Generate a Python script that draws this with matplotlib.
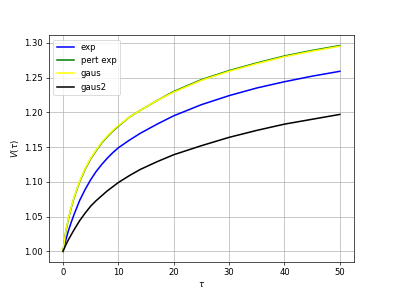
import matplotlib
matplotlib.use("Agg")
from matplotlib import pyplot as plt

tau = [0, 0.5, 1, 1.5, 2, 3, 4, 5, 6, 7, 8, 9, 10, 12, 14, 17, 20, 25, 30, 35, 40, 45, 50]

v_exp = [1.0, 1.016, 1.030, 1.042, 1.053, 1.073, 1.089, 1.103, 1.115, 1.125, 1.134, 1.142,
         1.149, 1.160, 1.170, 1.183, 1.195, 1.211, 1.224, 1.235, 1.244, 1.252, 1.259]
v_pert_exp = [1.0, 1.028, 1.047, 1.063, 1.077, 1.100, 1.118, 1.133, 1.145, 1.156, 1.165, 1.173,
              1.180, 1.193, 1.203, 1.217, 1.230, 1.247, 1.260, 1.271, 1.281, 1.289, 1.296]
v_gaus = [1.0, 1.029, 1.048, 1.064, 1.078, 1.101, 1.119, 1.134, 1.146, 1.157, 1.166, 1.174,
          1.181, 1.193, 1.203, 1.217, 1.229, 1.246, 1.259, 1.270, 1.280, 1.288, 1.295]
v_gaus2 = [1.0, 1.009, 1.017, 1.024, 1.031, 1.044, 1.055, 1.065, 1.073, 1.080, 1.087, 1.093,
           1.099, 1.109, 1.118, 1.129, 1.139, 1.152, 1.164, 1.174, 1.183, 1.190, 1.197]


def main():
    dpi = 61.4
    plt.figure(figsize=(393 / dpi, 294 / dpi), dpi=dpi)
    lw = 1.8
    plt.plot(tau, v_exp, color="blue", linewidth=lw, label="exp")
    plt.plot(tau, v_pert_exp, color="green", linewidth=lw, label="pert exp")
    plt.plot(tau, v_gaus, color="yellow", linewidth=lw, label="gaus")
    plt.plot(tau, v_gaus2, color="black", linewidth=lw, label="gaus2")
    plt.xlabel(r"$\tau$")
    plt.ylabel(r"$V(\tau)$")
    plt.grid(True)
    plt.legend(loc="upper left")
    plt.savefig("out.png", dpi=dpi)


if __name__ == "__main__":
    main()
